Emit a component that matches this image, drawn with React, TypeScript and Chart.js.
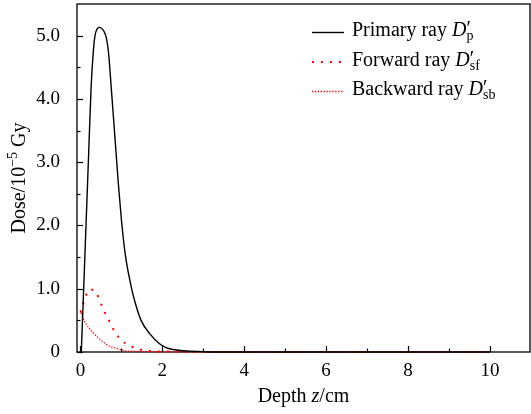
import React, { useEffect, useRef } from 'react';
import { Chart, registerables } from 'chart.js';

Chart.register(...registerables);

// ---------- data ----------
const primaryDepth = [0.02, 0.08, 0.14, 0.20, 0.26, 0.31, 0.35, 0.40, 0.47, 0.55, 0.60, 0.63, 0.66, 0.69, 0.75, 0.81, 0.87, 0.93, 1.00, 1.09, 1.24, 1.34, 1.48, 1.69, 1.93, 2.09, 2.3, 2.6, 3.0, 4, 6, 8, 10];
const primaryDose = [0, 1.03, 2.09, 3.14, 4.19, 4.72, 4.98, 5.10, 5.13, 5.09, 5.03, 4.97, 4.86, 4.70, 4.19, 3.67, 3.14, 2.62, 2.09, 1.56, 1.03, 0.77, 0.50, 0.29, 0.13, 0.07, 0.035, 0.015, 0.005, 0, 0, 0, 0];

const forwardDepth = [0.0, 0.02, 0.10, 0.23, 0.39, 0.49, 0.59, 0.71, 0.83, 1.01, 1.24, 1.46, 1.69, 2.0, 2.5, 3, 4, 6, 8, 10];
const forwardDose = [0.62, 0.67, 0.83, 0.99, 0.93, 0.78, 0.63, 0.48, 0.33, 0.18, 0.09, 0.04, 0.016, 0.008, 0.004, 0, 0, 0, 0, 0];

const backwardDepth = [0.0, 0.06, 0.14, 0.22, 0.33, 0.43, 0.55, 0.71, 0.87, 1.08, 1.3, 1.6, 2.0, 3, 4, 6, 8, 10];
const backwardDose = [0.66, 0.53, 0.44, 0.37, 0.29, 0.23, 0.16, 0.09, 0.06, 0.02, 0.012, 0.006, 0.003, 0, 0, 0, 0, 0];

const seriesNames = ['Primary ray', 'Forward ray', 'Backward ray'];
const seriesSubs = ['p', 'sf', 'sb'];

const xTickValues = [0, 2, 4, 6, 8, 10];
const xMinorTicks = [1, 3, 5, 7, 9];
const yTickValues = [0, 1, 2, 3, 4, 5];
const yMinorTicks = [0.5, 1.5, 2.5, 3.5, 4.5];

// ---------- styling ----------
const SERIF = '"Liberation Serif", "Times New Roman", serif';
const ROMAN = `20px ${SERIF}`;
const ITALIC = `italic 20px ${SERIF}`;
const SMALL = `14px ${SERIF}`;

const seriesColors = ['#000000', '#ff0000', '#ff0000'];
const seriesWidths = [1.4, 2, 1.3];
const seriesDashes: number[][] = [[], [2, 7], [1.3, 1.6]];

type Run = { text: string; font: string; dy?: number; noAdvance?: boolean };

function measureRuns(ctx: CanvasRenderingContext2D, runs: Run[]) {
  let total = 0;
  let pending = 0;
  for (const r of runs) {
    ctx.font = r.font;
    const w = ctx.measureText(r.text).width;
    if (r.noAdvance) {
      pending = Math.max(pending, w);
    } else {
      total += Math.max(w, pending);
      pending = 0;
    }
  }
  return total + pending;
}

function drawRuns(ctx: CanvasRenderingContext2D, runs: Run[], x: number, y: number, align: 'left' | 'center') {
  ctx.textBaseline = 'alphabetic';
  ctx.textAlign = 'left';
  const total = measureRuns(ctx, runs);
  let cx = align === 'center' ? x - total / 2 : x;
  let pending = 0;
  for (const r of runs) {
    ctx.font = r.font;
    const w = ctx.measureText(r.text).width;
    ctx.fillText(r.text, cx, y + (r.dy || 0));
    if (r.noAdvance) {
      pending = Math.max(pending, w);
    } else {
      cx += Math.max(w, pending);
      pending = 0;
    }
  }
}

const decorPlugin = {
  id: 'decor',
  beforeDatasetsDraw(chart: any) {
    const { ctx, chartArea } = chart;
    ctx.save();
    ctx.strokeStyle = '#000';
    ctx.lineWidth = 1.3;
    ctx.strokeRect(chartArea.left, chartArea.top, chartArea.right - chartArea.left, chartArea.bottom - chartArea.top);
    ctx.restore();
  },
  afterDraw(chart: any) {
    const { ctx, chartArea, scales } = chart;
    const xs = scales.x;
    const ys = scales.y;
    ctx.save();
    ctx.strokeStyle = '#000';
    ctx.lineWidth = 1.2;
    ctx.setLineDash([]);
    const tick = (x1: number, y1: number, x2: number, y2: number) => {
      ctx.beginPath();
      ctx.moveTo(x1, y1);
      ctx.lineTo(x2, y2);
      ctx.stroke();
    };
    for (const v of xTickValues) {
      const px = Math.round(xs.getPixelForValue(v)) + 0.5;
      tick(px, chartArea.bottom, px, chartArea.bottom - 6);
    }
    for (const v of xMinorTicks) {
      const px = Math.round(xs.getPixelForValue(v)) + 0.5;
      tick(px, chartArea.bottom, px, chartArea.bottom - 3.5);
    }
    for (const v of yTickValues) {
      const py = Math.round(ys.getPixelForValue(v)) + 0.5;
      tick(chartArea.left, py, chartArea.left + 6, py);
    }
    for (const v of yMinorTicks) {
      const py = Math.round(ys.getPixelForValue(v)) + 0.5;
      tick(chartArea.left, py, chartArea.left + 3.5, py);
    }

    ctx.fillStyle = '#000';
    drawRuns(
      ctx,
      [
        { text: 'Depth ', font: ROMAN },
        { text: 'z', font: ITALIC },
        { text: '/cm', font: ROMAN },
      ],
      (chartArea.left + chartArea.right) / 2,
      402,
      'center'
    );
    ctx.save();
    ctx.translate(25, (chartArea.top + chartArea.bottom) / 2);
    ctx.rotate(-Math.PI / 2);
    drawRuns(
      ctx,
      [
        { text: 'Dose/10', font: ROMAN },
        { text: '\u22125', font: SMALL, dy: -8 },
        { text: ' Gy', font: ROMAN },
      ],
      0,
      0,
      'center'
    );
    ctx.restore();

    const baseY = [36, 65.5, 95];
    for (let i = 0; i < seriesNames.length; i++) {
      const ly = baseY[i] - 3.5;
      ctx.save();
      ctx.strokeStyle = seriesColors[i];
      ctx.lineWidth = seriesWidths[i];
      ctx.setLineDash(seriesDashes[i]);
      ctx.beginPath();
      ctx.moveTo(312, ly);
      ctx.lineTo(344, ly);
      ctx.stroke();
      ctx.restore();
      ctx.fillStyle = '#000';
      drawRuns(
        ctx,
        [
          { text: seriesNames[i] + ' ', font: ROMAN },
          { text: 'D', font: ITALIC },
          { text: '\u2032', font: ROMAN, dy: -1, noAdvance: true },
          { text: seriesSubs[i], font: SMALL, dy: 4 },
        ],
        352,
        baseY[i],
        'left'
      );
    }
    ctx.restore();
  },
};

function toPoints(xs: number[], ys: number[]) {
  return xs.map((x, i) => ({ x, y: ys[i] }));
}

export default function App() {
  const canvasRef = useRef<HTMLCanvasElement | null>(null);

  useEffect(() => {
    const canvas = canvasRef.current;
    if (!canvas) return;
    const series = [
      toPoints(primaryDepth, primaryDose),
      toPoints(forwardDepth, forwardDose),
      toPoints(backwardDepth, backwardDose),
    ];
    const chart = new Chart(canvas, {
      type: 'line',
      data: {
        datasets: series.map((data, i) => ({
          label: seriesNames[i],
          data,
          borderColor: seriesColors[i],
          backgroundColor: seriesColors[i],
          borderWidth: seriesWidths[i],
          borderDash: seriesDashes[i],
          borderCapStyle: 'butt',
          pointRadius: 0,
          fill: false,
          cubicInterpolationMode: 'monotone',
          clip: false,
        })) as any,
      },
      options: {
        animation: false,
        responsive: false,
        devicePixelRatio: 1,
        layout: { padding: { left: 0, right: 1, top: 4, bottom: 0 } },
        plugins: {
          legend: { display: false },
          tooltip: { enabled: false },
          title: { display: false },
        },
        scales: {
          x: {
            type: 'linear',
            min: -0.085,
            max: 10.98,
            grid: { display: false },
            border: { display: false },
            afterBuildTicks: (s: any) => {
              s.ticks = xTickValues.map((v) => ({ value: v }));
            },
            afterFit: (s: any) => {
              s.height = 62;
              s.paddingLeft = 0;
              s.paddingRight = 0;
            },
            ticks: {
              color: '#000',
              padding: 0,
              maxRotation: 0,
              autoSkip: false,
              font: { family: SERIF, size: 19 },
              callback: (v: any) => String(v),
            },
          },
          y: {
            type: 'linear',
            min: 0,
            max: 5.5,
            grid: { display: false },
            border: { display: false },
            afterBuildTicks: (s: any) => {
              s.ticks = yTickValues.map((v) => ({ value: v }));
            },
            afterFit: (s: any) => {
              s.width = 77;
              s.paddingTop = 0;
              s.paddingBottom = 0;
            },
            ticks: {
              color: '#000',
              padding: 9,
              autoSkip: false,
              font: { family: SERIF, size: 19 },
              callback: (v: any) => (Number(v) === 0 ? '0' : Number(v).toFixed(1)),
            },
          },
        },
      },
      plugins: [decorPlugin],
    });
    return () => chart.destroy();
  }, []);

  return (
    <div style={{ position: 'absolute', left: 0, top: 0, width: 531, height: 414, background: '#fff' }}>
      <canvas ref={canvasRef} width={531} height={414} style={{ width: 531, height: 414 }} />
    </div>
  );
}
